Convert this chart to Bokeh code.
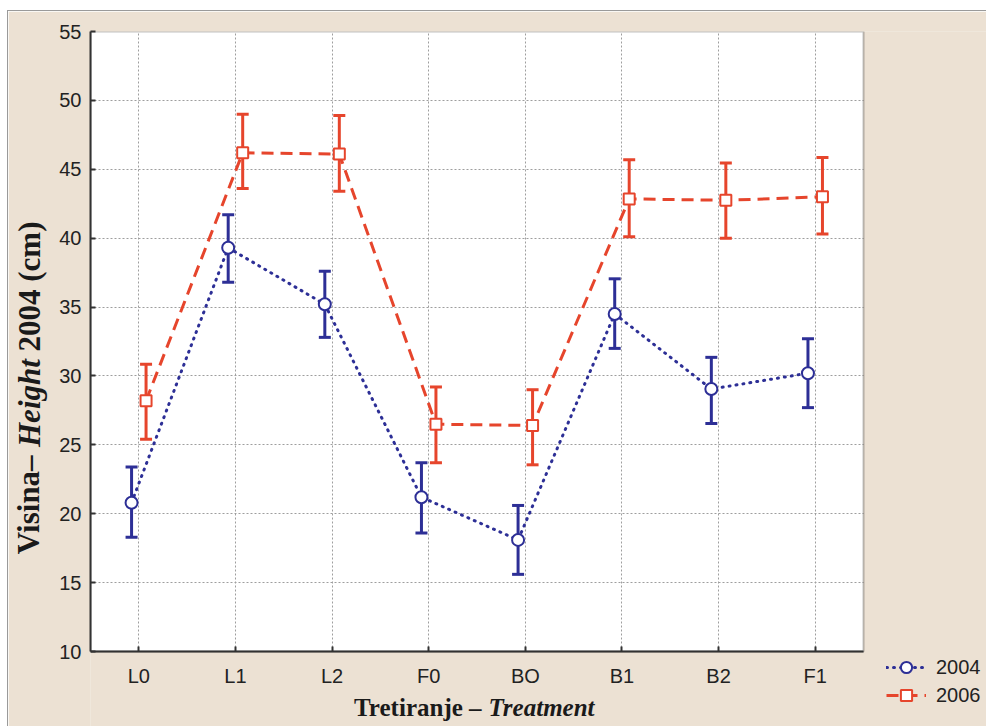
import numpy as np
from bokeh.plotting import figure
from bokeh.models import (ColumnDataSource, Whisker, TeeHead, Legend, LegendItem,
                          FixedTicker, Range1d, LinearAxis, BoxAnnotation, Label)
from bokeh.embed import file_html
from bokeh.resources import INLINE

# ---- data ----
categories = ["L0", "L1", "L2", "F0", "BO", "B1", "B2", "F1"]
height_2004 = [20.8, 39.3, 35.2, 21.2, 18.1, 34.5, 29.05, 30.2]
upper_2004 = [23.4, 41.7, 37.6, 23.7, 20.6, 37.05, 31.35, 32.7]
lower_2004 = [18.3, 36.8, 32.8, 18.6, 15.6, 32.0, 26.55, 27.7]
height_2006 = [28.2, 46.2, 46.1, 26.5, 26.4, 42.85, 42.75, 43.0]
upper_2006 = [30.85, 49.0, 48.9, 29.2, 29.0, 45.7, 45.45, 45.85]
lower_2006 = [25.4, 43.6, 43.4, 23.7, 23.55, 40.1, 40.0, 40.3]
y_ticks = [10, 15, 20, 25, 30, 35, 40, 45, 50, 55]
series_labels = ["2004", "2006"]
x_title_parts = ["Tretiranje –", "Treatment"]
y_title_parts = ["Visina–", "Height", "2004 (cm)"]

BLUE = "#2d2f96"
RED = "#e6452c"
BEIGE = "#ece1d3"
INK = "#1a1a1a"
SERIF = "Liberation Serif"

x = np.arange(len(categories), dtype=float)
x04 = x - 0.075
x06 = x + 0.075

X_LO, X_HI = -0.5, 7.5      # plotting area (categories)
Y_LO, Y_HI = 10, 55

# the frame reaches the right and bottom edges of the canvas so that the legend
# and the x title (which lie outside the plotting area) are not clipped
p = figure(width=979, height=716, x_range=Range1d(X_LO, 8.783), y_range=Range1d(4.484, Y_HI),
           output_backend="svg", toolbar_location=None,
           min_border_left=82, min_border_right=0, min_border_top=20, min_border_bottom=0,
           background_fill_color=BEIGE, border_fill_color=BEIGE,
           margin=(10, 0, 0, 7))
p.styles = {"border-top": "1px solid #9a9a9a", "border-left": "1px solid #9a9a9a"}
p.outline_line_color = None

# white plotting area
p.add_layout(BoxAnnotation(left=X_LO, right=X_HI, bottom=Y_LO, top=Y_HI, fill_color="white",
                           fill_alpha=1, line_alpha=0, level="image"))

# axes
for ax in (p.xaxis[0], p.yaxis[0]):
    ax.axis_line_color = "#333333"
    ax.axis_line_width = 2
    ax.major_tick_in = 5
    ax.major_tick_out = 0
    ax.major_tick_line_color = "#333333"
    ax.major_tick_line_width = 2
    ax.minor_tick_line_color = None
    ax.major_label_text_font = "Liberation Sans"
    ax.major_label_text_font_size = "20px"
    ax.major_label_text_color = "#222222"

p.xaxis.ticker = FixedTicker(ticks=list(x))
p.xaxis.major_label_overrides = {int(i): c for i, c in zip(x, categories)}
p.xaxis.major_label_standoff = 13
p.xaxis.fixed_location = Y_LO
p.xaxis.bounds = (X_LO, X_HI)
p.yaxis.ticker = FixedTicker(ticks=y_ticks)
p.yaxis.major_label_standoff = 9
p.yaxis.bounds = (Y_LO, Y_HI)

for g in (p.xgrid[0], p.ygrid[0]):
    g.grid_line_color = "#9e9e9e"
    g.grid_line_dash = "2 2"
    g.grid_line_width = 1

# beige covers for the grid lines outside the plotting area
p.add_layout(BoxAnnotation(left=X_HI, fill_color=BEIGE, fill_alpha=1, line_alpha=0,
                           level="underlay"))
p.add_layout(BoxAnnotation(top=Y_LO, fill_color=BEIGE, fill_alpha=1, line_alpha=0,
                           level="underlay"))

# error bars
src04 = ColumnDataSource(dict(x=x04, y=height_2004, upper=upper_2004, lower=lower_2004))
src06 = ColumnDataSource(dict(x=x06, y=height_2006, upper=upper_2006, lower=lower_2006))
for src, col in ((src04, BLUE), (src06, RED)):
    p.add_layout(Whisker(source=src, base="x", upper="upper", lower="lower",
                         line_color=col, line_width=3, level="underlay",
                         upper_head=TeeHead(size=12, line_color=col, line_width=3),
                         lower_head=TeeHead(size=12, line_color=col, line_width=3)))

# lines and markers
l04 = p.line("x", "y", source=src04, line_color=BLUE, line_width=3,
             line_dash="1 6", line_cap="round")
l06 = p.line("x", "y", source=src06, line_color=RED, line_width=3, line_dash="12 7")
s04 = p.scatter("x", "y", source=src04, marker="circle", size=12, fill_color="white",
                line_color=BLUE, line_width=2)
s06 = p.scatter("x", "y", source=src06, marker="square", size=11, fill_color="white",
                line_color=RED, line_width=2)

# plotting-area border
p.add_layout(BoxAnnotation(left=X_LO, right=X_HI, bottom=Y_LO, top=Y_HI, fill_alpha=0,
                           line_color="#333333", line_width=2, level="annotation"))

# legend below-right of the plotting area
legend = Legend(items=[LegendItem(label=series_labels[0], renderers=[l04, s04]),
                       LegendItem(label=series_labels[1], renderers=[l06, s06])],
                location=(796, 18),
                glyph_width=40, glyph_height=28, label_height=28,
                label_text_font="Liberation Sans", label_text_font_size="20px",
                label_text_color="#222222", label_standoff=10,
                background_fill_alpha=0, border_line_alpha=0,
                padding=0, margin=0, spacing=0)
p.add_layout(legend)

# x title (bold + bold italic)
p.add_layout(Label(x=3.547, y=5.94, text=x_title_parts[0], text_align="right",
                   text_baseline="alphabetic", text_font=SERIF, text_font_style="bold",
                   text_font_size="25px", text_color=INK))
p.add_layout(Label(x=3.619, y=5.94, text=x_title_parts[1], text_align="left",
                   text_baseline="alphabetic", text_font=SERIF,
                   text_font_style="bold italic", text_font_size="25px", text_color=INK))


# y title carried by label-only axes in the left panel
def title_axis(pos, text, style, size, standoff):
    return LinearAxis(ticker=FixedTicker(ticks=[pos]), major_label_overrides={pos: text},
                      axis_line_color=None, major_tick_line_color=None,
                      minor_tick_line_color=None, major_tick_in=0, major_tick_out=0,
                      major_label_standoff=standoff, major_label_orientation="vertical",
                      major_label_text_font=SERIF, major_label_text_font_style=style,
                      major_label_text_font_size=size, major_label_text_color=INK)

p.add_layout(title_axis(20.65, y_title_parts[0], "bold", "31px", 10), "left")
p.add_layout(title_axis(28.03, y_title_parts[1], "bold italic", "31px", -39), "left")
p.add_layout(title_axis(36.49, y_title_parts[2], "bold", "31px", -39), "left")

open("out.html", "w").write(file_html(p, INLINE))
